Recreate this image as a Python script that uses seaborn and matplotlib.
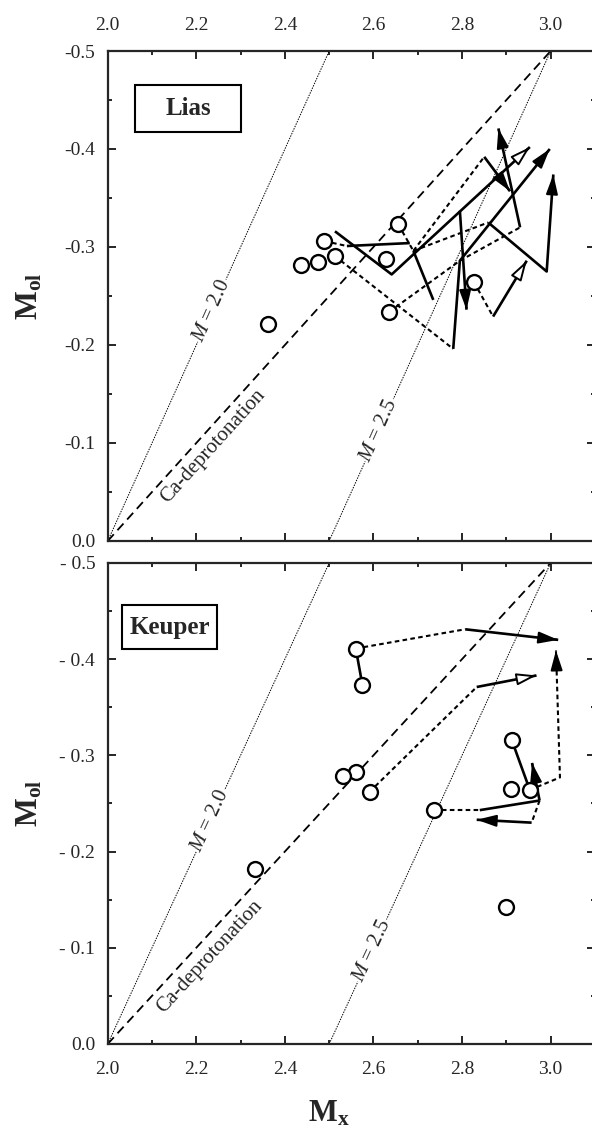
import numpy as np
import matplotlib
matplotlib.use("Agg")
import matplotlib.pyplot as plt
from matplotlib.patches import Rectangle
import seaborn as sns

# ---- data ----
# reference lines
m20_x = [2.0, 2.5]
m20_y = [0.0, -0.5]
m25_x = [2.5, 3.0]
m25_y = [0.0, -0.5]
ca_x = [2.0, 3.0]
ca_y = [0.0, -0.5]

# Lias samples
lias_x = [2.362, 2.436, 2.475, 2.489, 2.512, 2.628, 2.636, 2.656, 2.827]
lias_y = [-0.221, -0.282, -0.285, -0.306, -0.291, -0.288, -0.234, -0.323, -0.264]

# Lias paths: dotted links (circle -> turning point)
lias_dot = [
    ([2.489, 2.540], [-0.306, -0.301]),
    ([2.656, 2.690], [-0.323, -0.296]),
    ([2.512, 2.780], [-0.291, -0.196]),
    ([2.636, 2.795], [-0.234, -0.286]),
    ([2.827, 2.870], [-0.264, -0.229]),
    ([2.690, 2.850], [-0.296, -0.392]),
    ([2.690, 2.859], [-0.296, -0.325]),
    ([2.795, 2.931], [-0.286, -0.320]),
]
# Lias solid paths, last point is arrow tip ('f' filled, 'o' open, '' none)
lias_solid = [
    ([2.513, 2.641, 2.953], [-0.316, -0.272, -0.402], 'o'),
    ([2.690, 2.735], [-0.296, -0.246], ''),
    ([2.540, 2.682], [-0.301, -0.304], ''),
    ([2.795, 2.810], [-0.337, -0.236], 'f'),
    ([2.780, 2.795, 2.998], [-0.196, -0.286, -0.400], 'f'),
    ([2.850, 2.908], [-0.392, -0.357], 'f'),
    ([2.931, 2.882], [-0.320, -0.421], 'f'),
    ([2.859, 2.991, 3.006], [-0.325, -0.275, -0.374], 'f'),
    ([2.870, 2.946], [-0.229, -0.286], 'o'),
]

# Keuper samples
keup_x = [2.560, 2.575, 2.560, 2.532, 2.591, 2.737, 2.912, 2.910, 2.953, 2.333, 2.900]
keup_y = [-0.411, -0.373, -0.283, -0.278, -0.262, -0.243, -0.316, -0.265, -0.264, -0.182, -0.142]

keup_dot = [
    ([2.560, 2.807], [-0.411, -0.431], ''),
    ([2.591, 2.833], [-0.262, -0.371], ''),
    ([2.737, 2.840], [-0.243, -0.243], ''),
    ([2.975, 2.957], [-0.253, -0.230], ''),
    ([2.953, 3.021, 3.012], [-0.264, -0.277, -0.409], 'f'),
]
keup_solid = [
    ([2.560, 2.575], [-0.411, -0.373], ''),
    ([2.807, 3.017], [-0.431, -0.420], 'f'),
    ([2.833, 2.968], [-0.371, -0.383], 'o'),
    ([2.840, 2.975], [-0.243, -0.253], ''),
    ([2.975, 2.958], [-0.253, -0.292], 'f'),
    ([2.957, 2.833], [-0.230, -0.233], 'f'),
    ([2.912, 2.949], [-0.316, -0.269], ''),
]

x_ticks = [2.0, 2.2, 2.4, 2.6, 2.8, 3.0]
x_labels = ['2.0', '2.2', '2.4', '2.6', '2.8', '3.0']
y_ticks = [-0.5, -0.4, -0.3, -0.2, -0.1, 0.0]
y_labels_top = ['-0.5', '-0.4', '-0.3', '-0.2', '-0.1', '0.0']
y_labels_bot = ['- 0.5', '- 0.4', '- 0.3', '- 0.2', '- 0.1', '0.0']

# ---- style ----
sns.set_style("ticks")
plt.rcParams['font.family'] = ['Liberation Serif', 'DejaVu Serif']
plt.rcParams['mathtext.fontset'] = 'custom'
plt.rcParams['mathtext.rm'] = 'Liberation Serif'
plt.rcParams['mathtext.it'] = 'Liberation Serif:italic'
plt.rcParams['mathtext.bf'] = 'Liberation Serif:bold'

fig = plt.figure(figsize=(5.92, 11.31), dpi=100)
ax1 = fig.add_axes([0.182, 0.5217, 0.823, 0.4332])
ax2 = fig.add_axes([0.182, 0.0770, 0.823, 0.4253])


def head(ax, p0, p1, kind):
    # only the arrow head, oriented along p0 -> p1
    dx, dy = p1[0] - p0[0], p1[1] - p0[1]
    start = (p1[0] - dx * 0.02, p1[1] - dy * 0.02)
    ax.annotate('', xy=p1, xytext=start,
                arrowprops=dict(arrowstyle='-|>,head_length=1.2,head_width=0.36',
                                lw=1.4, ec='black', fc='black' if kind == 'f' else 'white',
                                shrinkA=0, shrinkB=0, mutation_scale=10),
                zorder=4)


def draw_path(ax, xs, ys, kind, dotted):
    if dotted:
        ax.plot(xs, ys, color='black', lw=1.5, dashes=(2.2, 1.6), zorder=3)
    else:
        ax.plot(xs, ys, color='black', lw=1.9, solid_capstyle='butt', zorder=3)
    if kind:
        head(ax, (xs[-2], ys[-2]), (xs[-1], ys[-1]), kind)


def panel(ax, sx, sy, dots, solids, title, box, ylabels, top, rot):
    # reference lines
    sns.lineplot(x=m20_x, y=m20_y, ax=ax, color='black', lw=0.7,
                 linestyle=(0, (1.5, 1.2)), sort=False, estimator=None)
    sns.lineplot(x=m25_x, y=m25_y, ax=ax, color='black', lw=0.7,
                 linestyle=(0, (1.5, 1.2)), sort=False, estimator=None)
    ax.plot(ca_x, ca_y, color='black', lw=1.3, dashes=(5, 3))

    for d in dots:
        draw_path(ax, d[0], d[1], d[2] if len(d) > 2 else '', True)
    for s in solids:
        draw_path(ax, s[0], s[1], s[2], False)

    sns.scatterplot(x=sx, y=sy, ax=ax, s=115, marker='o', color='white',
                    edgecolor='black', linewidth=1.7, zorder=6)

    # line labels
    txt = dict(ha='center', va='center', fontsize=15, rotation_mode='anchor',
               bbox=dict(fc='white', ec='none', pad=0.5))
    ax.text(rot['m20'][0], rot['m20'][1], '$M$ = 2.0', rotation=rot['am'], **txt)
    ax.text(rot['m25'][0], rot['m25'][1], '$M$ = 2.5', rotation=rot['am'], **txt)
    ax.text(rot['ca'][0], rot['ca'][1], 'Ca-deprotonation', rotation=rot['ac'],
            ha='center', va='center', fontsize=15, rotation_mode='anchor')

    # title box
    ax.add_patch(Rectangle((box[0], box[1]), box[2], box[3], transform=ax.transAxes,
                           fill=False, ec='black', lw=1.5, zorder=7))
    ax.text(box[0] + box[2] / 2, box[1] + box[3] / 2, title, transform=ax.transAxes,
            ha='center', va='center', fontsize=18, fontweight='bold', zorder=8)

    ax.set_xlim(2.0, 3.1)
    ax.set_ylim(0.0, -0.5)
    ax.set_xticks(x_ticks)
    ax.set_xticks(np.arange(2.1, 3.1, 0.2), minor=True)
    ax.set_yticks(y_ticks)
    ax.set_yticks([-0.45, -0.35, -0.25, -0.15, -0.05], minor=True)
    ax.set_xticklabels(x_labels)
    ax.set_yticklabels(ylabels)
    ax.tick_params(which='both', direction='in', top=True, right=True,
                   labeltop=top, labelbottom=not top, labelsize=14, width=1.4)
    ax.tick_params(which='major', length=6)
    ax.tick_params(which='minor', length=3)
    ax.tick_params(axis='x', pad=12)
    ax.tick_params(axis='y', pad=9)
    for sp in ax.spines.values():
        sp.set_linewidth(1.6)
    ax.set_xlabel('')
    ax.set_ylabel(r'$\mathbf{M}_{\mathbf{ol}}$', fontsize=22)
    ax.yaxis.set_label_coords(-0.13, 0.5)


panel(ax1, lias_x, lias_y, lias_dot, lias_solid, 'Lias',
      (0.056, 0.835, 0.218, 0.096), y_labels_top, True,
      dict(m20=(2.235, -0.235), m25=(2.613, -0.113), ca=(2.238, -0.097), am=65.7, ac=47.9))
panel(ax2, keup_x, keup_y, keup_dot, keup_solid, 'Keuper',
      (0.03, 0.82, 0.195, 0.092), y_labels_bot, False,
      dict(m20=(2.232, -0.232), m25=(2.597, -0.097), ca=(2.231, -0.091), am=65.2, ac=47.3))

ax2.set_xlabel(r'$\mathbf{M}_{\mathbf{x}}$', fontsize=22)
ax2.xaxis.set_label_coords(0.454, -0.115)

fig.savefig('out.png', dpi=100)
